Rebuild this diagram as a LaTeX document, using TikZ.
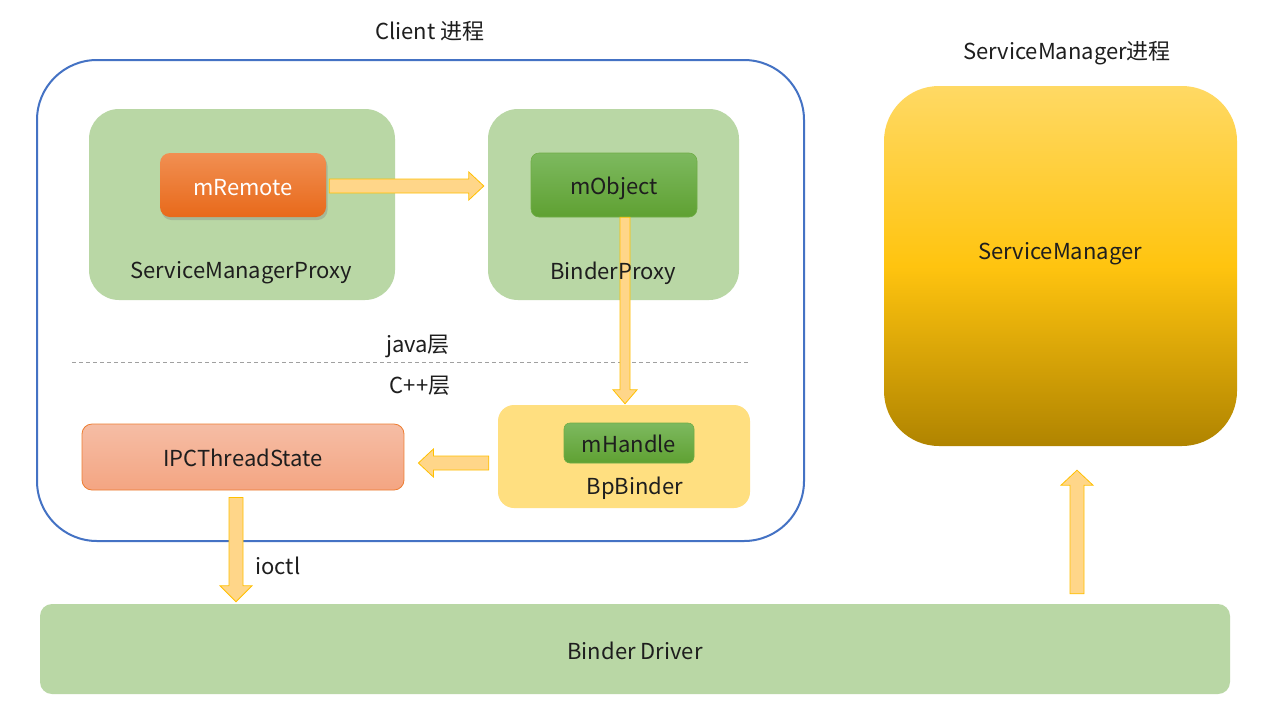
\documentclass[tikz,border=0pt]{standalone}
\usepackage{fontspec}
\setmainfont{Noto Sans CJK SC}
\usetikzlibrary{calc,shadows}
\definecolor{boxgreen}{RGB}{185,215,165}
\definecolor{boxyellow}{RGB}{255,223,128}
\definecolor{arrowfill}{RGB}{255,214,137}
\definecolor{arrowline}{RGB}{255,192,0}
\definecolor{clientblue}{RGB}{68,114,196}
\definecolor{txt}{RGB}{30,30,30}
\newcommand{\blockarrow}[5]{%
  \coordinate (ba-c) at ($(#2)!#5!(#1)$);
  \draw[blockarrowstyle] ($(#1)!#3!90:(#2)$) -- ($(ba-c)!#3!90:(#2)$) -- ($(ba-c)!#4!90:(#2)$) -- (#2)
    -- ($(ba-c)!#4!-90:(#2)$) -- ($(ba-c)!#3!-90:(#2)$) -- ($(#1)!#3!-90:(#2)$) -- cycle;}
\tikzset{
  blockarrowstyle/.style={fill=arrowfill, draw=arrowline, line width=0.8pt, line join=miter},
  lbl/.style={font=\fontsize{22}{26}\selectfont, text=txt, inner sep=0pt},
  container/.style={rectangle, draw=none, fill=boxgreen, rounded corners=30pt},
  innergreen/.style={rectangle, rounded corners=8pt, draw={rgb,255:red,112;green,173;blue,71}, line width=0.6pt,
     top color={rgb,255:red,125;green,185;blue,95}, bottom color={rgb,255:red,95;green,161;blue,50}},
}
\begin{document}
\begin{tikzpicture}[x=1pt,y=-1pt]
\useasboundingbox[fill=white] (0,0) rectangle (1268,710);
% client process
\node[rectangle, draw=clientblue, line width=2pt, rounded corners=60pt, minimum width=767pt, minimum height=481pt] (client) at (420.5,300.5) {};
\node[lbl] (clientTitle) at (430,31) {Client 进程};
% java layer
\node[container, minimum width=306pt, minimum height=191pt] (smp) at (242,204.5) {};
\node[container, minimum width=251pt, minimum height=191pt] (bp) at (613.5,204.5) {};
\node[lbl] (smpLabel) at (241,273) {ServiceManagerProxy};
\node[rectangle, rounded corners=10pt, minimum width=166pt, minimum height=64pt,
  top color={rgb,255:red,241;green,143;blue,82}, bottom color={rgb,255:red,232;green,105;blue,26},
  drop shadow={opacity=0.35, shadow xshift=1.5pt, shadow yshift=-3pt},
  label={[lbl, text=white, yshift=-3pt]center:mRemote}] (mRemote) at (243,185) {};
\node[innergreen, minimum width=166pt, minimum height=64pt,
  label={[lbl, yshift=-3pt]center:mObject}] (mObject) at (614,185) {};
% layer separator
\coordinate (sepL) at (72,362);
\coordinate (sepR) at (748,362);
\draw[draw={rgb,255:red,160;green,160;blue,160}, line width=0.8pt, dash pattern=on 4pt off 3pt] (sepL) -- (sepR);
\node[lbl] (javaLabel) at (418,346) {java层};
\node[lbl] (cppLabel) at (420,386) {C++层};
% C++ layer
\node[rectangle, fill=boxyellow, rounded corners=16pt, minimum width=252pt, minimum height=103pt] (bpb) at (624,456.5) {};
\node[innergreen, rounded corners=6pt, minimum width=130pt, minimum height=40pt,
  label={[lbl, yshift=-1pt]center:mHandle}] (mHandle) at (629,443) {};
\node[lbl] (bpbLabel) at (635,488) {BpBinder};
\node[rectangle, rounded corners=10pt, draw={rgb,255:red,237;green,125;blue,49}, line width=0.8pt,
  top color={rgb,255:red,245;green,189;blue,165}, bottom color={rgb,255:red,244;green,165;blue,130},
  minimum width=322pt, minimum height=66pt,
  label={[lbl, yshift=-1pt]center:IPCThreadState}] (ipc) at (243,457) {};
% driver
\node[rectangle, fill=boxgreen, rounded corners=12pt, minimum width=1190pt, minimum height=90pt,
  label={[lbl, yshift=-2pt]center:Binder Driver}] (driver) at (635,649) {};
% service manager
\node[lbl] (smTitle) at (1067,53) {ServiceManager进程};
\node[rectangle, rounded corners=55pt, minimum width=353pt, minimum height=360pt,
  top color={rgb,255:red,255;green,217;blue,100}, bottom color={rgb,255:red,176;green,132;blue,0},
  middle color={rgb,255:red,255;green,196;blue,15}] (sm) at (1060.5,266) {};
\node[lbl] (smLabel) at (1060,254) {ServiceManager};
% arrows
\coordinate (a1s) at ($(mRemote.east)+(3,1)$);
\coordinate (a1e) at ($(bp.west)+(-4,-18.5)$);
\blockarrow{a1s}{a1e}{7pt}{14pt}{15pt}
\coordinate (a2s) at (bpb.north |- mObject.south);
\coordinate (a2e) at ($(bpb.north)+(1,-1)$);
\coordinate (a2s) at ($(a2s)+(1,0)$);
\blockarrow{a2s}{a2e}{5pt}{12pt}{14pt}
\node[lbl] (bpLabel) at (613,273) {BinderProxy};
\coordinate (a3s) at ($(bpb.west)+(-9,6.5)$);
\coordinate (a3e) at ($(ipc.east)+(14,6)$);
\blockarrow{a3s}{a3e}{7pt}{14pt}{15pt}
\coordinate (a4s) at ($(ipc.south)+(-7,7)$);
\coordinate (a4e) at ($(driver.north)+(-399,-2)$);
\blockarrow{a4s}{a4e}{7pt}{16pt}{16pt}
\node[lbl] (ioctlLabel) at (278,566) {ioctl};
\coordinate (a5s) at ($(driver.north)+(442,-10)$);
\coordinate (a5e) at ($(sm.south)+(16.5,24)$);
\blockarrow{a5s}{a5e}{7pt}{16pt}{15pt}
\end{tikzpicture}
\end{document}
